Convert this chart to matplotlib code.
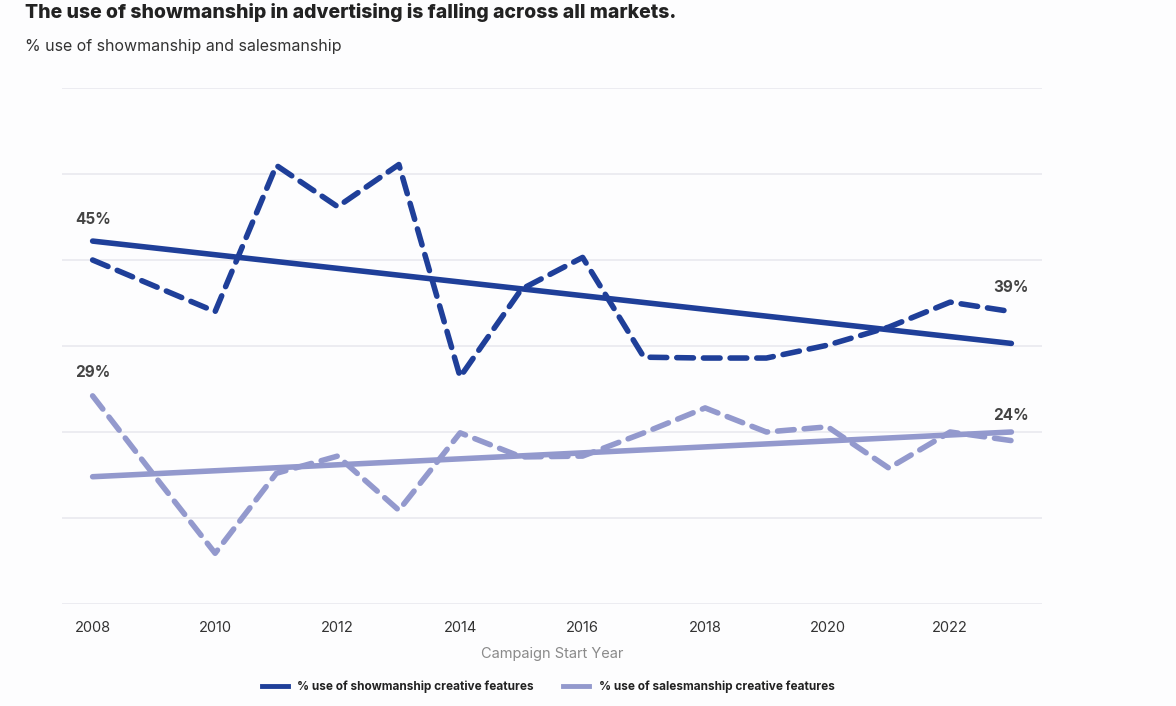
import matplotlib
matplotlib.use("Agg")
import matplotlib.pyplot as plt
from matplotlib.lines import Line2D

years = list(range(2008, 2024))
showmanship = [45.0, 42.0, 39.0, 56.0, 51.2, 56.1, 31.4, 41.6, 45.3, 33.7, 33.6, 33.6, 35.1, 37.2, 40.1, 39.0]
salesmanship = [29.2, 20.0, 10.9, 20.2, 22.2, 15.9, 24.9, 22.1, 22.2, 24.9, 27.8, 25.0, 25.6, 20.8, 25.0, 24.0]
show_trend_years = [2008, 2023]
show_trend = [47.2, 35.3]
sales_trend_years = [2008, 2023]
sales_trend = [19.8, 25.0]
xticks = [2008, 2010, 2012, 2014, 2016, 2018, 2020, 2022]
yticks = [5, 15, 25, 35, 45, 55, 65]
label_texts = ["45%", "29%", "39%", "24%"]

plt.rcParams['font.family'] = ['Inter', 'DejaVu Sans']

c_show = '#1f3f99'
c_sales = '#9399cd'
bg = '#fdfdfe'

fig = plt.figure(figsize=(11.76, 7.06), dpi=100, facecolor=bg)
ax = fig.add_axes([62/1176, 1-604/706, (1042-62)/1176, (604-88)/706], facecolor=bg)

ax.plot(years, showmanship, color=c_show, lw=4.0, dashes=(3.0, 1.8), dash_capstyle='round', zorder=3)
ax.plot(show_trend_years, show_trend, color=c_show, lw=4.0, solid_capstyle='round', zorder=4)
ax.plot(years, salesmanship, color=c_sales, lw=4.0, dashes=(3.0, 1.8), dash_capstyle='round', zorder=3)
ax.plot(sales_trend_years, sales_trend, color=c_sales, lw=4.0, solid_capstyle='round', zorder=4)

ax.set_xlim(2007.5, 2023.5)
ax.set_ylim(5, 65)
ax.set_yticks(yticks)
ax.set_yticklabels([])
ax.tick_params(axis='y', length=0)
ax.grid(axis='y', color='#e9e9ef', lw=1.2)
ax.set_axisbelow(True)
ax.set_xticks(xticks)
ax.set_xticklabels([str(x) for x in xticks], fontsize=10.5, color='#333333')
ax.tick_params(axis='x', length=0, pad=12)
for s in ax.spines.values():
    s.set_visible(False)

ax.set_xlabel("Campaign Start Year", fontsize=10.5, color='#8a8a8a', labelpad=9)

lab_kw = dict(fontsize=11, fontweight='bold', color='#444444', ha='center', va='center')
ax.text(2008.0, 47.2 + 2.5, label_texts[0], **lab_kw)
ax.text(2008.0, 29.2 + 2.7, label_texts[1], **lab_kw)
ax.text(2023.0, 39.0 + 2.8, label_texts[2], **lab_kw)
ax.text(2023.0, 25.0 + 1.9, label_texts[3], **lab_kw)

fig.text(25/1176, 1-12/706, "The use of showmanship in advertising is falling across all markets.",
         fontsize=14.0, fontweight='heavy', color='#222222', ha='left', va='center')
fig.text(25/1176, 1-46/706, "% use of showmanship and salesmanship",
         fontsize=11.5, color='#333333', ha='left', va='center')

handles = [Line2D([0], [0], color=c_show, lw=3.5),
           Line2D([0], [0], color=c_sales, lw=3.5)]
leg = fig.legend(handles, ["% use of showmanship creative features", "% use of salesmanship creative features"],
                 loc='center', bbox_to_anchor=(548/1176, 1-687/706), ncol=2, frameon=False,
                 prop={'size': 8.5, 'weight': 'bold'}, handlelength=2.2, columnspacing=2.5, handletextpad=0.8)
for t in leg.get_texts():
    t.set_color('#222222')

fig.savefig("out.png", dpi=100, facecolor=bg)
